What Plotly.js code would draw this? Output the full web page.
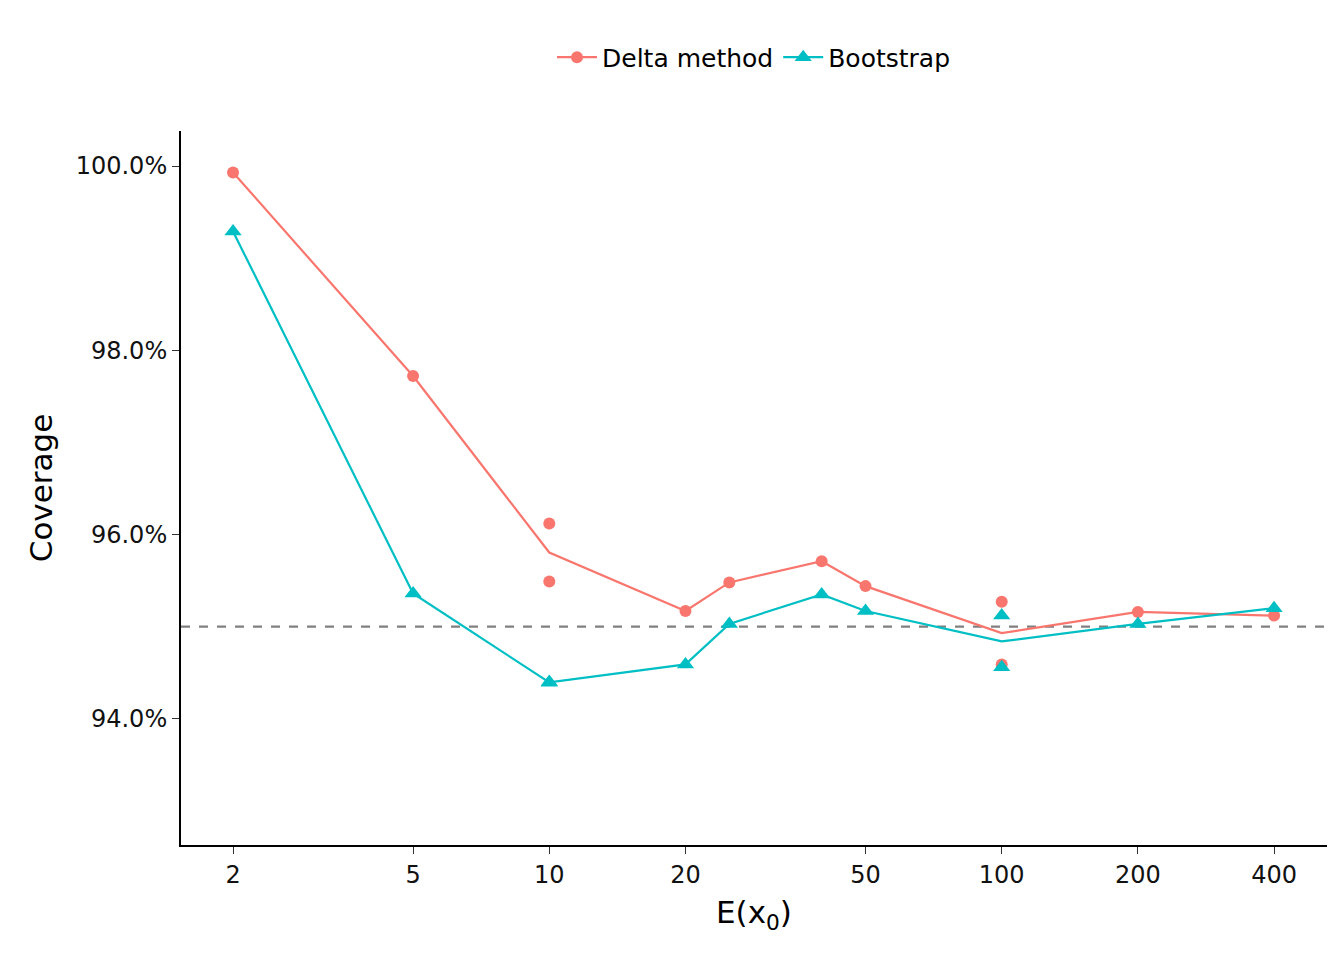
<!DOCTYPE html>
<html>
<head>
<meta charset="utf-8">
<script src="https://cdn.plot.ly/plotly-3.0.1.min.js"></script>
<style>body{margin:0}</style>
</head>
<body>
<div id="chart" style="width:1344px;height:960px"></div>
<script>
// points
let xPoints = [2, 5, 10, 10, 20, 25, 40, 50, 100, 100, 200, 400]
let deltaPoints = [99.93, 97.72, 96.12, 95.49, 95.17, 95.48, 95.71, 95.44, 95.27, 94.59, 95.16, 95.12]
let bootPoints = [99.29, 95.36, 94.39, 94.40, 94.59, 95.03, 95.35, 95.17, 95.12, 94.56, 95.03, 95.20]
let tickVals = [2, 5, 10, 20, 50, 100, 200, 400]
let yTicks = [94, 96, 98, 100]

// line goes through the mean at each x
function means(xs, ys) {
    let groups = {}
    xs.forEach((x, i) => { (groups[x] = groups[x] || []).push(ys[i]) })
    let ux = Object.keys(groups).map(Number).sort((a, b) => a - b)
    return { x: ux, y: ux.map(x => groups[x].reduce((a, b) => a + b, 0) / groups[x].length) }
}

let red = '#F8766D'
let cyan = '#00BFC4'
let dm = means(xPoints, deltaPoints)
let bm = means(xPoints, bootPoints)

let data = [
    { x: dm.x, y: dm.y, mode: 'lines', line: { color: red, width: 2.2 }, showlegend: false, hoverinfo: 'skip' },
    { x: bm.x, y: bm.y, mode: 'lines', line: { color: cyan, width: 2.2 }, showlegend: false, hoverinfo: 'skip' },
    { x: xPoints, y: deltaPoints, mode: 'markers', showlegend: false, marker: { color: red, size: 12, symbol: 'circle' } },
    { x: xPoints, y: bootPoints, mode: 'markers', showlegend: false, marker: { color: cyan, size: 15, symbol: 'triangle-up' } },
    // legend keys
    { x: [null], y: [null], mode: 'lines+markers', name: 'Delta method', line: { color: red, width: 2.2 },
      marker: { color: red, size: 12, symbol: 'circle' } },
    { x: [null], y: [null], mode: 'lines+markers', name: 'Bootstrap', line: { color: cyan, width: 2.2 },
      marker: { color: cyan, size: 15, symbol: 'triangle-up' } },
]

let layout = {
    width: 1344,
    height: 960,
    margin: { l: 181, r: 17, t: 131, b: 115 },
    paper_bgcolor: 'white',
    plot_bgcolor: 'white',
    font: { family: 'DejaVu Sans', size: 24, color: '#000' },
    legend: { orientation: 'h', x: 0.5, xanchor: 'center', y: 1.103, yanchor: 'middle', font: { size: 25 }, itemwidth: 40 },
    xaxis: {
        type: 'log', range: [0.186, 2.719], tickvals: tickVals, ticktext: tickVals.map(String),
        showgrid: false, zeroline: false, showline: true, linecolor: '#000', linewidth: 2,
        ticks: 'outside', ticklen: 7, tickcolor: '#333', tickfont: { size: 24, color: '#111' },
        title: { text: 'E(x<sub>0</sub>)', font: { size: 31 }, standoff: 14 }
    },
    yaxis: {
        range: [92.63, 100.38], tickvals: yTicks, ticktext: yTicks.map(v => v.toFixed(1) + '%'),
        showgrid: false, zeroline: false, showline: true, linecolor: '#000', linewidth: 2,
        ticks: 'outside', ticklen: 7, tickcolor: '#333', tickfont: { size: 24, color: '#111' },
        title: { text: 'Coverage', font: { size: 31 }, standoff: 14 }
    },
    shapes: [{ type: 'line', xref: 'paper', x0: 0, x1: 1, yref: 'y', y0: 95, y1: 95,
        line: { color: '#808080', width: 2.2, dash: 'dash' }, layer: 'below' }]
}

Plotly.newPlot('chart', data, layout, { displayModeBar: false })
</script>
</body>
</html>
